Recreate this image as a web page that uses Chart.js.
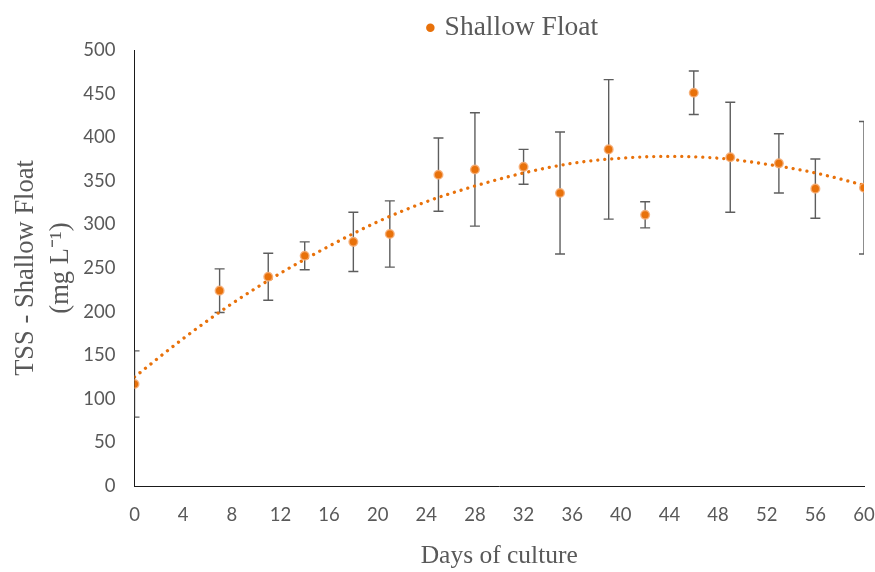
<!DOCTYPE html>
<html><head><meta charset="utf-8">
<script src="https://cdn.jsdelivr.net/npm/chart.js@4/dist/chart.umd.min.js"></script>
<style>html,body{margin:0;padding:0;background:#fff}#wrap{width:875px;height:572px}</style>
</head><body><div id="wrap"><canvas id="c" width="875" height="572"></canvas></div>
<script>
// Data
const days    = [0, 7, 11, 14, 18, 21, 25, 28, 32, 35, 39, 42, 46, 49, 53, 56, 60];
const tss     = [117, 224, 240, 264, 280, 289, 357, 363, 366, 336, 386, 311, 451, 377, 370, 341, 342];
const tssErr  = [38, 25, 27, 16, 34, 38, 42, 65, 20, 70, 80, 15, 25, 63, 34, 34, 76];
// Dotted polynomial trend line
const trendDays = [0, 4, 8, 12, 16, 20, 24, 28, 32, 36, 40, 44, 48, 52, 56, 60];
const trendTss  = [125, 169, 209, 244, 275, 303, 326, 344, 359, 370, 376, 378, 376, 369, 359, 345];
const xMin = 0, xMax = 60, xStep = 4;
const yMin = 0, yMax = 500, yStep = 50;
const seriesName = 'Shallow Float';
const xTitle = 'Days of culture';
const yTitle = ['TSS - Shallow Float', '(mg L\u207B\u00B9)'];

const ORANGE = '#E8710A';
const GREY = '#595959';

const errorBars = {
  id: 'errorBars',
  beforeDatasetsDraw(chart) {
    const {ctx, chartArea: a, scales: {x, y}} = chart;
    ctx.save();
    ctx.beginPath();
    ctx.rect(a.left, a.top, a.right - a.left, a.bottom - a.top);
    ctx.clip();
    ctx.strokeStyle = 'rgba(75,75,75,0.9)';
    ctx.lineWidth = 1.4;
    days.forEach((d, i) => {
      const px = x.getPixelForValue(d);
      const top = y.getPixelForValue(tss[i] + tssErr[i]);
      const bot = y.getPixelForValue(tss[i] - tssErr[i]);
      ctx.beginPath();
      ctx.moveTo(px, top); ctx.lineTo(px, bot);
      ctx.moveTo(px - 5, top); ctx.lineTo(px + 5, top);
      ctx.moveTo(px - 5, bot); ctx.lineTo(px + 5, bot);
      ctx.stroke();
    });
    ctx.restore();
  }
};

const legendShift = {
  id: 'legendShift',
  afterLayout(chart) {
    const l = chart.legend;
    if (l) { l.left += 82; l.right += 82; l.top += 1.5; l.bottom += 1.5; }
  }
};

new Chart(document.getElementById('c'), {
  type: 'scatter',
  data: {
    datasets: [
      {
        label: seriesName,
        data: days.map((d, i) => ({x: d, y: tss[i]})),
        backgroundColor: ORANGE,
        borderColor: 'rgba(246,172,115,0.85)',
        pointBackgroundColor: ORANGE,
        pointBorderColor: 'rgba(246,172,115,0.85)',
        pointBorderWidth: 1.5,
        pointRadius: 4.3,
        pointHoverRadius: 4.3,
        showLine: false,
        order: 0
      },
      {
        label: 'trend',
        type: 'line',
        data: trendDays.map((d, i) => ({x: d, y: trendTss[i]})),
        borderColor: ORANGE,
        borderWidth: 3.3,
        borderDash: [0.01, 7],
        borderCapStyle: 'round',
        pointRadius: 0,
        cubicInterpolationMode: 'monotone',
        fill: false,
        order: 1
      }
    ]
  },
  options: {
    responsive: false,
    animation: false,
    devicePixelRatio: 1,
    layout: {padding: {left: 0, right: 11, top: 8, bottom: 0}},
    plugins: {
      tooltip: {enabled: false},
      legend: {
        position: 'top',
        labels: {
          usePointStyle: true,
          pointStyle: 'circle',
          boxWidth: 1,
          boxHeight: 6,
          padding: 4.5,
          color: GREY,
          font: {family: 'Liberation Serif', size: 27.5},
          generateLabels: (chart) => [{
            text: seriesName, fillStyle: ORANGE, strokeStyle: ORANGE, lineWidth: 0,
            pointStyle: 'circle', datasetIndex: 0, hidden: false, fontColor: GREY
          }]
        }
      }
    },
    scales: {
      x: {
        type: 'linear',
        min: xMin, max: xMax,
        grid: {display: false, drawTicks: false},
        border: {display: true, color: '#1a1a1a', width: 1},
        ticks: {stepSize: xStep, autoSkip: false, maxRotation: 0, padding: 18, color: GREY,
                font: {family: 'Lato', size: 18.5}},
        title: {display: true, text: xTitle, color: GREY,
                font: {family: 'Liberation Serif', size: 25.5}, padding: {top: 0, bottom: 0}},
        afterFit: (s) => { s.height = 86; s.paddingRight = 0; s.paddingLeft = 0; }
      },
      y: {
        type: 'linear',
        min: yMin, max: yMax,
        grid: {display: false, drawTicks: false},
        border: {display: true, color: '#1a1a1a', width: 1},
        ticks: {stepSize: yStep, padding: 19, color: GREY,
                font: {family: 'Lato', size: 18.5}},
        title: {display: true, text: yTitle, color: GREY,
                font: {family: 'Liberation Serif', size: 26.5, lineHeight: 1.3}, padding: {top: 9, bottom: 0}},
        afterFit: (s) => { s.width = 134.5; }
      }
    }
  },
  plugins: [errorBars, legendShift]
});
</script>
</body></html>
